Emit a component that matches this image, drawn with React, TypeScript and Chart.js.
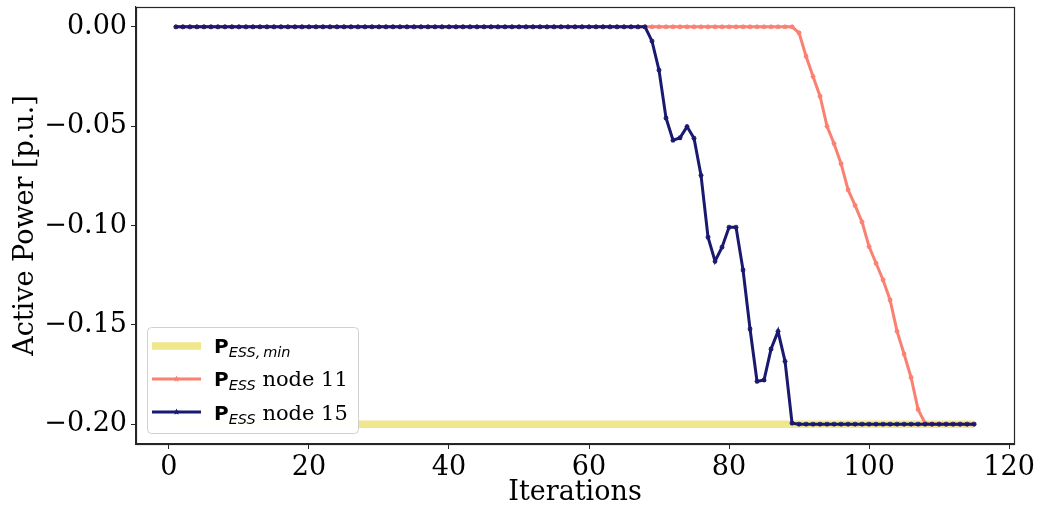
import React, { useEffect, useRef } from "react";
import { Chart, registerables } from "chart.js";

Chart.register(...registerables);

const iterations: number[] = [
  1, 2, 3, 4, 5, 6, 7, 8, 9, 10,
  11, 12, 13, 14, 15, 16, 17, 18, 19, 20,
  21, 22, 23, 24, 25, 26, 27, 28, 29, 30,
  31, 32, 33, 34, 35, 36, 37, 38, 39, 40,
  41, 42, 43, 44, 45, 46, 47, 48, 49, 50,
  51, 52, 53, 54, 55, 56, 57, 58, 59, 60,
  61, 62, 63, 64, 65, 66, 67, 68, 69, 70,
  71, 72, 73, 74, 75, 76, 77, 78, 79, 80,
  81, 82, 83, 84, 85, 86, 87, 88, 89, 90,
  91, 92, 93, 94, 95, 96, 97, 98, 99, 100,
  101, 102, 103, 104, 105, 106, 107, 108, 109, 110,
  111, 112, 113, 114, 115,
];

const pEssMin: number[] = [
  -0.2, -0.2, -0.2, -0.2, -0.2, -0.2, -0.2, -0.2, -0.2, -0.2,
  -0.2, -0.2, -0.2, -0.2, -0.2, -0.2, -0.2, -0.2, -0.2, -0.2,
  -0.2, -0.2, -0.2, -0.2, -0.2, -0.2, -0.2, -0.2, -0.2, -0.2,
  -0.2, -0.2, -0.2, -0.2, -0.2, -0.2, -0.2, -0.2, -0.2, -0.2,
  -0.2, -0.2, -0.2, -0.2, -0.2, -0.2, -0.2, -0.2, -0.2, -0.2,
  -0.2, -0.2, -0.2, -0.2, -0.2, -0.2, -0.2, -0.2, -0.2, -0.2,
  -0.2, -0.2, -0.2, -0.2, -0.2, -0.2, -0.2, -0.2, -0.2, -0.2,
  -0.2, -0.2, -0.2, -0.2, -0.2, -0.2, -0.2, -0.2, -0.2, -0.2,
  -0.2, -0.2, -0.2, -0.2, -0.2, -0.2, -0.2, -0.2, -0.2, -0.2,
  -0.2, -0.2, -0.2, -0.2, -0.2, -0.2, -0.2, -0.2, -0.2, -0.2,
  -0.2, -0.2, -0.2, -0.2, -0.2, -0.2, -0.2, -0.2, -0.2, -0.2,
  -0.2, -0.2, -0.2, -0.2, -0.2,
];

const pEssNode11: number[] = [
  0, 0, 0, 0, 0, 0, 0, 0, 0, 0,
  0, 0, 0, 0, 0, 0, 0, 0, 0, 0,
  0, 0, 0, 0, 0, 0, 0, 0, 0, 0,
  0, 0, 0, 0, 0, 0, 0, 0, 0, 0,
  0, 0, 0, 0, 0, 0, 0, 0, 0, 0,
  0, 0, 0, 0, 0, 0, 0, 0, 0, 0,
  0, 0, 0, 0, 0, 0, 0, 0, 0, 0,
  0, 0, 0, 0, 0, 0, 0, 0, 0, 0,
  0, 0, 0, 0, 0, 0, 0, 0, 0, -0.003,
  -0.0148, -0.025, -0.0349, -0.0501, -0.0588, -0.0689, -0.082, -0.0899, -0.0983, -0.1106,
  -0.119, -0.1274, -0.1375, -0.1533, -0.1647, -0.1765, -0.1926, -0.1995, -0.2, -0.2,
  -0.2, -0.2, -0.2, -0.2, -0.2,
];

const pEssNode15: number[] = [
  0, 0, 0, 0, 0, 0, 0, 0, 0, 0,
  0, 0, 0, 0, 0, 0, 0, 0, 0, 0,
  0, 0, 0, 0, 0, 0, 0, 0, 0, 0,
  0, 0, 0, 0, 0, 0, 0, 0, 0, 0,
  0, 0, 0, 0, 0, 0, 0, 0, 0, 0,
  0, 0, 0, 0, 0, 0, 0, 0, 0, 0,
  0, 0, 0, 0, 0, 0, 0, 0, -0.0072, -0.0218,
  -0.0459, -0.0571, -0.0558, -0.0502, -0.0561, -0.0748, -0.1059, -0.118, -0.1109, -0.1009,
  -0.1009, -0.1224, -0.1521, -0.1785, -0.1778, -0.1622, -0.1533, -0.1684, -0.1995, -0.2,
  -0.2, -0.2, -0.2, -0.2, -0.2, -0.2, -0.2, -0.2, -0.2, -0.2,
  -0.2, -0.2, -0.2, -0.2, -0.2, -0.2, -0.2, -0.2, -0.2, -0.2,
  -0.2, -0.2, -0.2, -0.2, -0.2,
];

const xTicks: number[] = [0, 20, 40, 60, 80, 100, 120];
const yTicks: number[] = [-0.2, -0.15, -0.1, -0.05, 0];

const legendLabels: string[] = ["ESS,\u2009min", "ESS", "ESS"];
const legendSuffix: string[] = ["", " node 11", " node 15"];

const COLORS = {
  min: "#f0e68c",
  n11: "#fa8072",
  n15: "#191970",
};

const FONT_SIZE = 27;

const fmtTick = (v: number) => {
  const s = Math.abs(v).toFixed(2);
  return v < -1e-9 ? "\u2212" + s : s;
};

const drawStar = (ctx: CanvasRenderingContext2D, x: number, y: number, r: number) => {
  ctx.beginPath();
  for (let k = 0; k < 10; k++) {
    const a = -Math.PI / 2 + (k * Math.PI) / 5;
    const rr = k % 2 === 0 ? r : r * 0.45;
    const px = x + rr * Math.cos(a);
    const py = y + rr * Math.sin(a);
    if (k === 0) ctx.moveTo(px, py);
    else ctx.lineTo(px, py);
  }
  ctx.closePath();
  ctx.fill();
};

const framePlugin = {
  id: "frame",
  afterDraw(chart: any) {
    const { ctx, chartArea } = chart;
    ctx.save();
    ctx.strokeStyle = "#262626";
    ctx.lineWidth = 1.2;
    ctx.strokeRect(
      Math.round(chartArea.left) + 0.5,
      Math.round(chartArea.top) + 0.5,
      Math.round(chartArea.right - chartArea.left),
      Math.round(chartArea.bottom - chartArea.top)
    );

    // custom legend
    const bx = 147, by = 327, bw = 211, bh = 106;
    ctx.fillStyle = "rgba(255,255,255,0.97)";
    ctx.strokeStyle = "#d0d0d0";
    ctx.lineWidth = 1;
    ctx.beginPath();
    (ctx as any).roundRect(bx + 0.5, by + 0.5, bw, bh, 4);
    ctx.fill();
    ctx.stroke();

    const rows = [
      { color: COLORS.min, width: 7.5, marker: false, y: 346 },
      { color: COLORS.n11, width: 3, marker: true, y: 379 },
      { color: COLORS.n15, width: 3, marker: true, y: 412 },
    ];
    const baselines = [352.5, 386, 419.5];
    rows.forEach((r, i) => {
      ctx.strokeStyle = r.color;
      ctx.lineWidth = r.width;
      ctx.lineCap = "butt";
      ctx.beginPath();
      ctx.moveTo(152, r.y);
      ctx.lineTo(201, r.y);
      ctx.stroke();
      if (r.marker) {
        ctx.fillStyle = r.color;
        drawStar(ctx, 176.5, r.y, 3.5);
      }
      let x = 214;
      ctx.fillStyle = "#000";
      ctx.textBaseline = "alphabetic";
      ctx.textAlign = "left";
      ctx.font = "bold 20px 'DejaVu Sans'";
      ctx.fillText("P", x, baselines[i]);
      x += ctx.measureText("P").width;
      ctx.font = "italic 14.5px 'DejaVu Sans'";
      ctx.fillText(legendLabels[i], x, baselines[i] + 4);
      x += ctx.measureText(legendLabels[i]).width;
      if (legendSuffix[i]) {
        ctx.font = "21px 'DejaVu Serif'";
        ctx.fillText(legendSuffix[i], x, baselines[i]);
      }
    });
    ctx.restore();
  },
};

const zeroPad = (s: any) => {
  s.paddingTop = 0;
  s.paddingBottom = 0;
  s.paddingLeft = 0;
  s.paddingRight = 0;
};

export default function App() {
  const ref = useRef<HTMLCanvasElement>(null);

  useEffect(() => {
    if (!ref.current) return;
    const mk = (vals: number[]) => iterations.map((x, i) => ({ x, y: vals[i] }));
    const chart = new Chart(ref.current, {
      type: "line",
      data: {
        datasets: [
          {
            label: "P ESS,min",
            data: mk(pEssMin),
            borderColor: COLORS.min,
            backgroundColor: COLORS.min,
            borderWidth: 7.5,
            pointRadius: 0,
            fill: false,
            order: 3,
          },
          {
            label: "P ESS node 11",
            data: mk(pEssNode11),
            borderColor: COLORS.n11,
            backgroundColor: COLORS.n11,
            borderWidth: 3,
            pointStyle: "star",
            pointRadius: 2.5,
            pointBorderWidth: 1.2,
            fill: false,
            order: 2,
          },
          {
            label: "P ESS node 15",
            data: mk(pEssNode15),
            borderColor: COLORS.n15,
            backgroundColor: COLORS.n15,
            borderWidth: 3,
            pointStyle: "star",
            pointRadius: 2.5,
            pointBorderWidth: 1.2,
            fill: false,
            order: 1,
          },
        ],
      },
      options: {
        animation: false,
        responsive: true,
        maintainAspectRatio: false,
        layout: { autoPadding: false, padding: { top: 7, right: 23, left: 0, bottom: 0 } },
        plugins: {
          legend: { display: false },
          tooltip: { enabled: false },
        },
        scales: {
          x: {
            type: "linear",
            min: -4.7,
            max: 120.7,
            afterBuildTicks: (s: any) => {
              s.ticks = xTicks.map((v) => ({ value: v }));
            },
            afterFit: (s: any) => {
              s.height = 62;
              zeroPad(s);
            },
            ticks: {
              color: "#000",
              font: { family: "'DejaVu Serif'", size: FONT_SIZE, lineHeight: 1.1 },
              padding: 4,
              maxRotation: 0,
              autoSkip: false,
              callback: (v: any) => String(v),
            },
            grid: {
              drawOnChartArea: false,
              drawTicks: true,
              tickLength: 5,
              color: "#262626",
            },
            border: { display: true, color: "#262626", width: 1.2 },
            title: {
              display: true,
              text: "Iterations",
              color: "#000",
              font: { family: "'DejaVu Serif'", size: FONT_SIZE, lineHeight: 0.9 },
              padding: { top: 0, bottom: 1 },
            },
          },
          y: {
            type: "linear",
            min: -0.21,
            max: 0.01,
            afterBuildTicks: (s: any) => {
              s.ticks = yTicks.map((v) => ({ value: v }));
            },
            afterFit: (s: any) => {
              s.width = 136;
              zeroPad(s);
            },
            ticks: {
              color: "#000",
              font: { family: "'DejaVu Serif'", size: FONT_SIZE },
              padding: 4,
              autoSkip: false,
              callback: (v: any) => fmtTick(Number(v)),
            },
            grid: {
              drawOnChartArea: false,
              drawTicks: true,
              tickLength: 5,
              color: "#262626",
            },
            border: { display: true, color: "#262626", width: 1.2 },
            title: {
              display: true,
              text: "Active Power [p.u.]",
              color: "#000",
              font: { family: "'DejaVu Serif'", size: FONT_SIZE },
              padding: { top: 10, bottom: 0 },
            },
          },
        },
      },
      plugins: [framePlugin],
    });
    return () => chart.destroy();
  }, []);

  return (
    <div style={{ position: "fixed", left: 0, top: 0, width: 1037, height: 506, background: "#fff" }}>
      <canvas ref={ref} />
    </div>
  );
}
